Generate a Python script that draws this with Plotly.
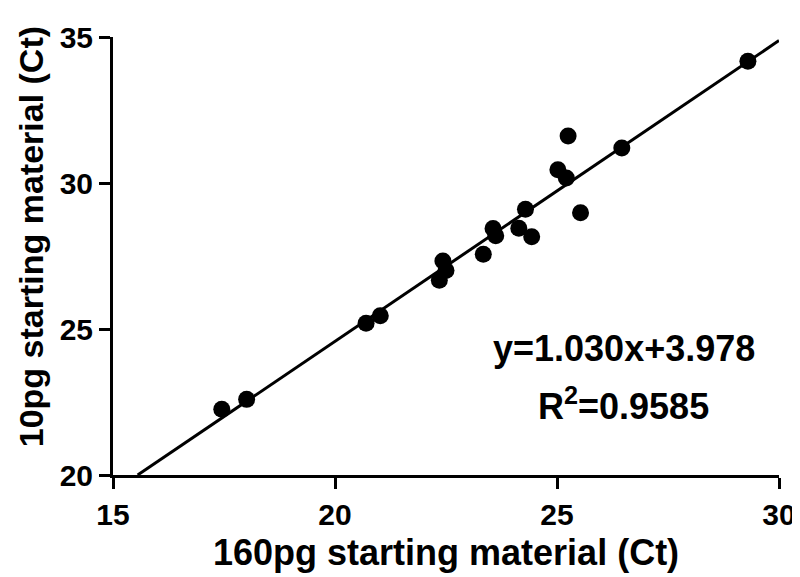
import plotly.graph_objects as go

# Data
x_160pg = [17.45, 18.01, 20.70, 21.02, 22.35, 22.50, 22.43, 23.34, 23.56, 23.62,
           24.14, 24.29, 24.43, 25.02, 25.21, 25.25, 25.53, 26.46, 29.30]
y_10pg = [22.25, 22.59, 25.20, 25.45, 26.67, 27.00, 27.33, 27.56, 28.44, 28.19,
          28.45, 29.10, 28.16, 30.45, 30.17, 31.61, 28.98, 31.20, 34.17]

slope = 1.030
intercept = 3.978
r_squared = 0.9585

x_ticks = [15, 20, 25, 30]
y_ticks = [20, 25, 30, 35]
x_range = [15, 30]
y_range = [20, 35]

x_title = "160pg starting material (Ct)"
y_title = "10pg starting material (Ct)"

# fitted line from the bottom of the y-range to the right of the x-range
x_line = [(y_range[0] - intercept) / slope, x_range[1]]
y_line = [slope * xv + intercept for xv in x_line]

FONT = "Liberation Sans, Arial, sans-serif"

fig = go.Figure()
fig.add_trace(go.Scatter(x=x_line, y=y_line, mode="lines",
                         line=dict(color="black", width=3), showlegend=False,
                         cliponaxis=False))
fig.add_trace(go.Scatter(x=x_160pg, y=y_10pg, mode="markers",
                         marker=dict(color="black", size=17), showlegend=False))

fig.add_annotation(x=26.50, y=24.32, xref="x", yref="y", xanchor="center", yanchor="middle",
                   text=f"<b>y={slope:.3f}x+{intercept:.3f}</b>", showarrow=False,
                   font=dict(family=FONT, size=36, color="black"))
fig.add_annotation(x=26.50, y=22.42, xref="x", yref="y", xanchor="center", yanchor="middle",
                   text=f"<b>R<sup>2</sup>={r_squared}</b>", showarrow=False,
                   font=dict(family=FONT, size=36, color="black"))

# axis titles
fig.add_annotation(x=0.5, y=-0.178, xref="paper", yref="paper", xanchor="center",
                   yanchor="middle", text=f"<b>{x_title}</b>", showarrow=False,
                   font=dict(family=FONT, size=36, color="black"))
fig.add_annotation(x=-0.123, y=0.543, xref="paper", yref="paper", xanchor="center",
                   yanchor="middle", text=f"<b>{y_title}</b>", showarrow=False,
                   textangle=-90, font=dict(family=FONT, size=34, color="black"))

axis_common = dict(showgrid=False, zeroline=False, showline=True, linecolor="black",
                   linewidth=3, ticks="outside", ticklen=11, tickwidth=3,
                   tickcolor="black", tickfont=dict(family=FONT, size=30, color="black"))

fig.update_xaxes(range=x_range, tickvals=x_ticks, ticktext=[f"<b>{t}</b>" for t in x_ticks],
                 **axis_common)
fig.update_yaxes(range=y_range, tickvals=y_ticks, ticktext=[f"<b>{t}</b>" for t in y_ticks],
                 **axis_common)

fig.update_layout(width=800, height=577, plot_bgcolor="white", paper_bgcolor="white",
                  margin=dict(l=105, r=22, t=17, b=110))

fig.write_html("out.html")
